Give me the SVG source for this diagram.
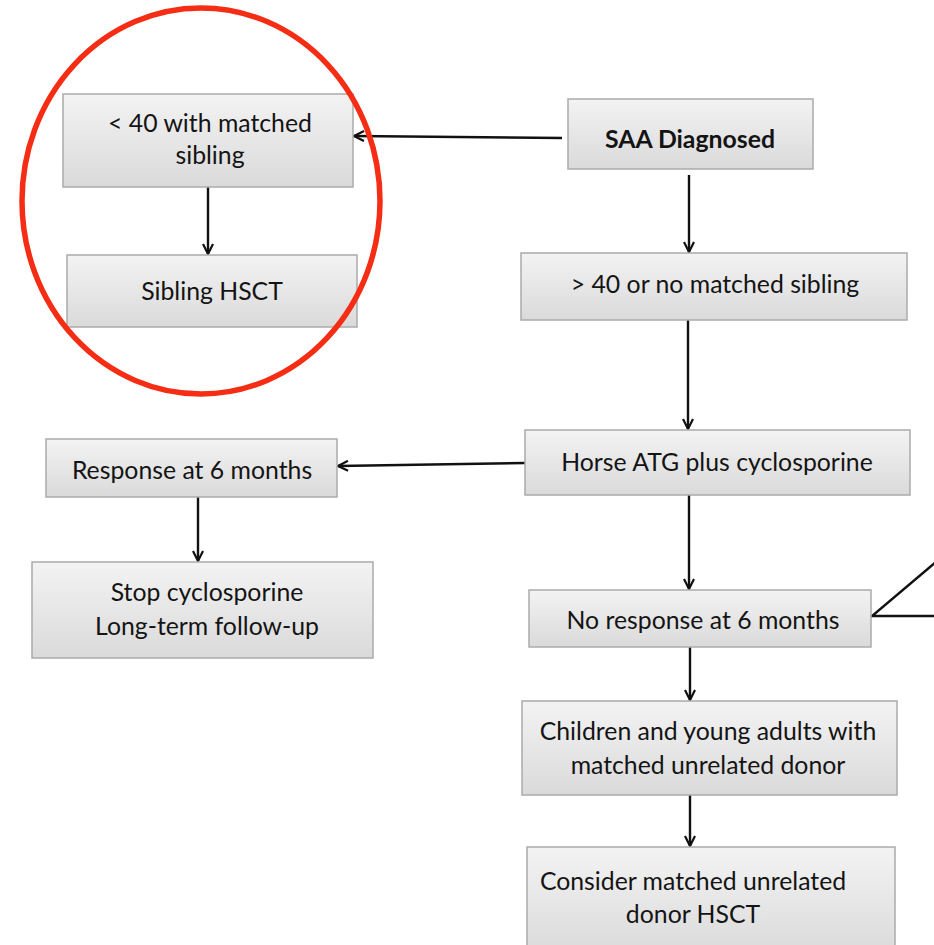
<svg xmlns="http://www.w3.org/2000/svg" width="934" height="945" viewBox="0 0 934 945">
<style>
.box{fill:url(#g);stroke:#ababab;stroke-width:1.5}
.t{font-family:Lato,"Open Sans",sans-serif;font-size:24.8px;fill:#141414;text-anchor:middle}
.b{font-weight:bold}
.c{stroke:#111;stroke-width:2.4;fill:none}
</style>
<defs>
<linearGradient id="g" x1="0" y1="0" x2="0" y2="1">
<stop offset="0" stop-color="#f3f3f3"/>
<stop offset="1" stop-color="#dadada"/>
</linearGradient>
<marker id="a" viewBox="0 0 12 12" refX="11" refY="6" markerWidth="12" markerHeight="12" markerUnits="userSpaceOnUse" orient="auto">
<path d="M1,1 L11,6 L1,11" fill="none" stroke="#111" stroke-width="2.2"/>
</marker>
</defs>
<rect width="934" height="945" fill="#fff"/>
<g id="connectors">
<line class="c" x1="562" y1="138" x2="354" y2="136" marker-end="url(#a)"/>
<line class="c" x1="208" y1="187" x2="208" y2="254" marker-end="url(#a)"/>
<line class="c" x1="689" y1="175" x2="689" y2="252" marker-end="url(#a)"/>
<line class="c" x1="688" y1="320" x2="688" y2="429" marker-end="url(#a)"/>
<line class="c" x1="525" y1="463" x2="338" y2="466" marker-end="url(#a)"/>
<line class="c" x1="198" y1="497" x2="198" y2="561" marker-end="url(#a)"/>
<line class="c" x1="689" y1="495" x2="689" y2="589" marker-end="url(#a)"/>
<line class="c" x1="690" y1="647" x2="690" y2="700" marker-end="url(#a)"/>
<line class="c" x1="690" y1="795" x2="690" y2="846" marker-end="url(#a)"/>
<polyline class="c" points="936,562 872,616 936,616" stroke-width="2.8"/>
</g>
<g id="n1"><rect class="box" x="63" y="94" width="290" height="93"/><text class="t" x="210" y="132">&lt; 40 with matched</text><text class="t" x="210" y="164">sibling</text></g>
<g id="n2"><rect class="box" x="67" y="255" width="290" height="72"/><text class="t" x="212" y="300">Sibling HSCT</text></g>
<g id="n3"><rect class="box" x="568" y="99" width="245" height="70"/><text class="t b" x="690" y="148">SAA Diagnosed</text></g>
<g id="n4"><rect class="box" x="521" y="253" width="386" height="67"/><text class="t" x="715" y="293">&gt; 40 or no matched sibling</text></g>
<g id="n5"><rect class="box" x="525" y="430" width="385" height="65"/><text class="t" x="717" y="471">Horse ATG plus cyclosporine</text></g>
<g id="n6"><rect class="box" x="46" y="439" width="291" height="58"/><text class="t" x="192" y="479">Response at 6 months</text></g>
<g id="n7"><rect class="box" x="32" y="562" width="341" height="96"/><text class="t" x="207" y="601">Stop cyclosporine</text><text class="t" x="207" y="635">Long-term follow-up</text></g>
<g id="n8"><rect class="box" x="529" y="590" width="342" height="57"/><text class="t" x="703" y="629">No response at 6 months</text></g>
<g id="n9"><rect class="box" x="522" y="701" width="375" height="94"/><text class="t" x="708" y="740">Children and young adults with</text><text class="t" x="708" y="774">matched unrelated donor</text></g>
<g id="n10"><rect class="box" x="527" y="847" width="368" height="110"/><text class="t" x="693" y="890">Consider matched unrelated</text><text class="t" x="693" y="923">donor HSCT</text></g>
<ellipse cx="201" cy="201" rx="179" ry="193" fill="none" stroke="#f52d14" stroke-width="5.5"/>
</svg>
